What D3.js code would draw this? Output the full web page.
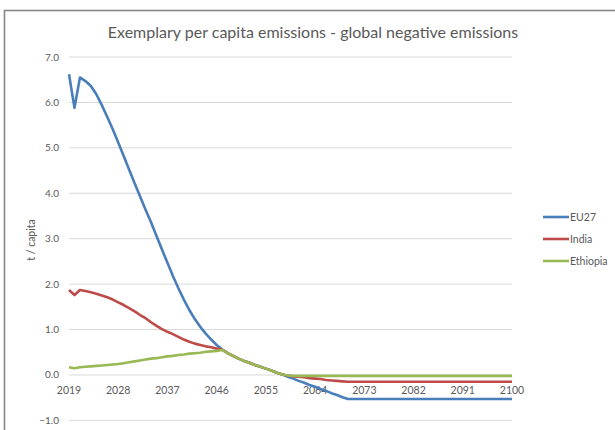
<!DOCTYPE html>
<html>
<head>
<meta charset="utf-8">
<script src="https://cdn.jsdelivr.net/npm/d3@7"></script>
<style>
  body { margin: 0; background: #fff; }
  text { font-family: Lato, "Open Sans", sans-serif; fill: #595959; }
</style>
</head>
<body>
<div id="chart"></div>
<script>
// years 2019..2100
const years = d3.range(2019, 2101);
const xTicks = [2019, 2028, 2037, 2046, 2055, 2064, 2073, 2082, 2091, 2100];
const yTicks = [-1, 0, 1, 2, 3, 4, 5, 6, 7];

const eu27 = [
  6.62, 5.88, 6.55, 6.47, 6.36, 6.18, 5.94, 5.68, 5.41, 5.12,
  4.82, 4.52, 4.22, 3.93, 3.64, 3.36, 3.06, 2.76, 2.47, 2.18,
  1.91, 1.66, 1.43, 1.23, 1.06, 0.91, 0.78, 0.66, 0.56, 0.48,
  0.42, 0.36, 0.31, 0.27, 0.22, 0.18, 0.14, 0.10, 0.05, 0.01,
  -0.04, -0.08, -0.13, -0.17, -0.22, -0.26, -0.31, -0.35, -0.40, -0.44,
  -0.49, -0.53, -0.53, -0.53, -0.53, -0.53, -0.53, -0.53, -0.53, -0.53,
  -0.53, -0.53, -0.53, -0.53, -0.53, -0.53, -0.53, -0.53, -0.53, -0.53,
  -0.53, -0.53, -0.53, -0.53, -0.53, -0.53, -0.53, -0.53, -0.53, -0.53,
  -0.53, -0.53
];
const india = [
  1.87, 1.76, 1.87, 1.85, 1.82, 1.79, 1.75, 1.71, 1.66, 1.60,
  1.54, 1.47, 1.40, 1.32, 1.25, 1.16, 1.08, 1.01, 0.95, 0.90,
  0.84, 0.78, 0.73, 0.69, 0.66, 0.63, 0.61, 0.58, 0.56, 0.48,
  0.42, 0.36, 0.31, 0.27, 0.22, 0.18, 0.14, 0.10, 0.05, 0.01,
  -0.01, -0.03, -0.04, -0.05, -0.07, -0.08, -0.09, -0.11, -0.12, -0.13,
  -0.14, -0.15, -0.15, -0.15, -0.15, -0.15, -0.15, -0.15, -0.15, -0.15,
  -0.15, -0.15, -0.15, -0.15, -0.15, -0.15, -0.15, -0.15, -0.15, -0.15,
  -0.15, -0.15, -0.15, -0.15, -0.15, -0.15, -0.15, -0.15, -0.15, -0.15,
  -0.15, -0.15
];
const ethiopia = [
  0.17, 0.15, 0.17, 0.18, 0.19, 0.20, 0.21, 0.22, 0.23, 0.24,
  0.26, 0.28, 0.30, 0.32, 0.34, 0.36, 0.37, 0.39, 0.41, 0.42,
  0.44, 0.45, 0.47, 0.48, 0.49, 0.51, 0.52, 0.53, 0.55, 0.48,
  0.42, 0.36, 0.31, 0.27, 0.22, 0.18, 0.14, 0.10, 0.05, 0.01,
  -0.01, -0.02, -0.02, -0.02, -0.02, -0.02, -0.02, -0.02, -0.02, -0.02,
  -0.02, -0.02, -0.02, -0.02, -0.02, -0.02, -0.02, -0.02, -0.02, -0.02,
  -0.02, -0.02, -0.02, -0.02, -0.02, -0.02, -0.02, -0.02, -0.02, -0.02,
  -0.02, -0.02, -0.02, -0.02, -0.02, -0.02, -0.02, -0.02, -0.02, -0.02,
  -0.02, -0.02
];
const seriesNames = ["EU27", "India", "Ethiopia"];
const seriesColors = ["#4a7ebb", "#be4b48", "#98b954"];

const series = [eu27, india, ethiopia].map((vals, i) => ({
  name: seriesNames[i],
  color: seriesColors[i],
  values: years.map((yr, j) => ({year: yr, v: vals[j]}))
}));

const width = 615, height = 430;

const svg = d3.select("#chart").append("svg")
    .attr("width", width)
    .attr("height", height);

// outer frame (only left and top edges visible)
svg.append("rect")
    .attr("x", 4.5).attr("y", 10.5)
    .attr("width", 700).attr("height", 500)
    .style("fill", "none")
    .style("stroke", "#878787")
    .style("stroke-width", 1.6);

const x = d3.scaleLinear().domain([2019, 2100]).range([69, 512]);
const y = d3.scaleLinear().domain([-1, 7]).range([420.4, 57]);

// gridlines
svg.append("g")
    .selectAll("line")
    .data(yTicks).enter()
    .append("line")
    .attr("x1", x(2019)).attr("x2", x(2100))
    .attr("y1", d => y(d)).attr("y2", d => y(d))
    .style("stroke", "#d9d9d9")
    .style("stroke-width", 1);

// y labels
svg.append("g")
    .selectAll("text")
    .data(yTicks).enter()
    .append("text")
    .attr("x", 59)
    .attr("y", d => y(d))
    .attr("dy", "0.35em")
    .attr("text-anchor", "end")
    .style("font-size", "10px")
    .text(d => d3.format(".1f")(d));

// x labels, sitting just under the zero line
svg.append("g")
    .selectAll("text")
    .data(xTicks).enter()
    .append("text")
    .attr("x", d => x(d))
    .attr("y", y(0) + 15)
    .attr("dy", "0.35em")
    .attr("text-anchor", "middle")
    .style("font-size", "10.5px")
    .text(d => d);

const line = d3.line()
    .x(d => x(d.year))
    .y(d => y(d.v));

svg.append("g")
    .selectAll("path")
    .data(series).enter()
    .append("path")
    .attr("d", d => line(d.values))
    .style("fill", "none")
    .style("stroke", d => d.color)
    .style("stroke-width", 2.6)
    .style("stroke-linejoin", "round");

// title
svg.append("text")
    .attr("x", 313)
    .attr("y", 38)
    .attr("text-anchor", "middle")
    .style("font-size", "16px")
    .text("Exemplary per capita emissions - global negative emissions");

// axis title
svg.append("text")
    .attr("transform", "translate(35,240) rotate(-90)")
    .attr("text-anchor", "middle")
    .style("font-size", "10.5px")
    .text("t / capita");

// legend
const legendY = [217, 239, 261];
const lg = svg.append("g")
    .selectAll("g")
    .data(series).enter()
    .append("g")
    .attr("transform", (d, i) => "translate(543," + legendY[i] + ")");
lg.append("line")
    .attr("x1", 0).attr("x2", 26)
    .style("stroke", d => d.color)
    .style("stroke-width", 2.6);
lg.append("text")
    .attr("x", 27)
    .attr("dy", "0.35em")
    .style("font-size", "10.5px")
    .text(d => d.name);
</script>
</body>
</html>
